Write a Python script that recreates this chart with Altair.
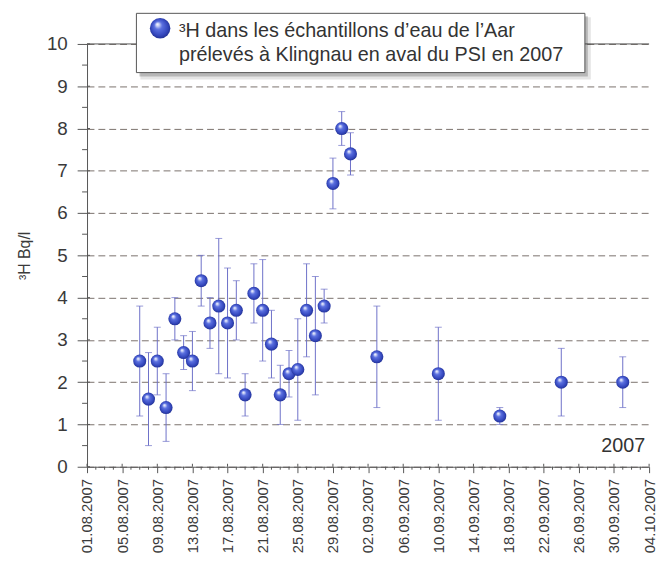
import altair as alt
import pandas as pd

# ---- data ----
dates = ["2007-08-07", "2007-08-08", "2007-08-09", "2007-08-10", "2007-08-11",
         "2007-08-12", "2007-08-13", "2007-08-14", "2007-08-15", "2007-08-16",
         "2007-08-17", "2007-08-18", "2007-08-19", "2007-08-20", "2007-08-21",
         "2007-08-22", "2007-08-23", "2007-08-24", "2007-08-25", "2007-08-26",
         "2007-08-27", "2007-08-28", "2007-08-29", "2007-08-30", "2007-08-31",
         "2007-09-03", "2007-09-10", "2007-09-17", "2007-09-24", "2007-10-01"]
values = [2.5, 1.6, 2.5, 1.4, 3.5, 2.7, 2.5, 4.4, 3.4, 3.8,
          3.4, 3.7, 1.7, 4.1, 3.7, 2.9, 1.7, 2.2, 2.3, 3.7,
          3.1, 3.8, 6.7, 8.0, 7.4, 2.6, 2.2, 1.2, 2.0, 2.0]
err_low = [1.2, 0.5, 1.7, 0.6, 3.0, 2.3, 1.8, 3.8, 2.8, 2.2,
           2.1, 3.0, 1.2, 3.4, 2.5, 2.1, 1.0, 1.65, 1.1, 2.6,
           1.7, 3.4, 6.1, 7.6, 6.9, 1.4, 1.1, 1.0, 1.2, 1.4]
err_high = [3.8, 2.7, 3.3, 2.2, 4.0, 3.1, 3.2, 5.0, 4.0, 5.4,
            4.7, 4.4, 2.2, 4.8, 4.9, 3.7, 2.4, 2.75, 3.5, 4.8,
            4.5, 4.2, 7.3, 8.4, 7.9, 3.8, 3.3, 1.4, 2.8, 2.6]

x_tick_dates = ["2007-08-01", "2007-08-05", "2007-08-09", "2007-08-13", "2007-08-17",
                "2007-08-21", "2007-08-25", "2007-08-29", "2007-09-02", "2007-09-06",
                "2007-09-10", "2007-09-14", "2007-09-18", "2007-09-22", "2007-09-26",
                "2007-09-30", "2007-10-04"]
y_ticks = [0, 1, 2, 3, 4, 5, 6, 7, 8, 9, 10]
y_minor = [0.5, 1.5, 2.5, 3.5, 4.5, 5.5, 6.5, 7.5, 8.5, 9.5]
x_minor = [d.strftime("%Y-%m-%d") for d in pd.date_range("2007-08-01", "2007-10-04")
           if d.strftime("%Y-%m-%d") not in x_tick_dates]

legend_lines = ["³H dans les échantillons d’eau de l’Aar",
                "prélevés à Klingnau en aval du PSI en 2007"]
y_title = "³H Bq/l"
year_label = "2007"

W, H = 569, 428
FONT = "Liberation Sans"
AXIS_COL = "#555555"
ERR_COL = "#6d70c8"

df = pd.DataFrame({"date": dates, "value": values, "lo": err_low, "hi": err_high})
df_xt = pd.DataFrame({"date": x_tick_dates})
df_xm = pd.DataFrame({"date": x_minor})
df_yt = pd.DataFrame({"v": y_ticks})
df_ym = pd.DataFrame({"v": y_minor})
one = pd.DataFrame({"k": [0]})

def dt(s):
    y, m, d = (int(p) for p in s.split("-"))
    return alt.DateTime(year=y, month=m, date=d, utc=True)

xscale = alt.Scale(type="utc", domain=[dt("2007-08-01"), dt("2007-10-04")])
yscale = alt.Scale(domain=[0, 10], nice=False)

sphere = alt.RadialGradient(
    gradient="radial", x1=0.36, y1=0.3, r1=0.0, x2=0.5, y2=0.5, r2=0.55,
    stops=[alt.GradientStop(offset=0.0, color="#ffffff"),
           alt.GradientStop(offset=0.14, color="#c9d1f6"),
           alt.GradientStop(offset=0.35, color="#5b70e0"),
           alt.GradientStop(offset=0.75, color="#3447bd"),
           alt.GradientStop(offset=1.0, color="#1e2c88")])

x_axis = alt.Axis(values=[dt(s) for s in x_tick_dates],
                  labelExpr="utcFormat(datum.value, '%d.%m.%Y')",
                  labelAngle=270, labelFontSize=15, labelColor="#3a3a3a", labelFont=FONT,
                  labelPadding=6, tickSize=6, tickColor=AXIS_COL, domainColor=AXIS_COL,
                  grid=False, title=None, labelOverlap=False, labelBound=False,
                  labelFlush=False, labelSeparation=0)
y_axis = alt.Axis(values=y_ticks, labelFontSize=19, labelColor="#3a3a3a", labelFont=FONT,
                  labelPadding=10, tickSize=10, tickColor=AXIS_COL, domainColor=AXIS_COL,
                  grid=True, gridDash=[7, 4], gridColor="#7a716c", gridWidth=1,
                  title=y_title, titleFont=FONT, titleFontSize=16, titleFontWeight="normal",
                  titleColor="#3a3a3a", titleX=-63, titleY=214, titleAlign="center",
                  titleBaseline="middle", titleAngle=270, labelFlush=False)

# error bars
err = alt.Chart(df).mark_rule(color=ERR_COL, strokeWidth=1).encode(
    x=alt.X("date:T", scale=xscale, axis=x_axis),
    y=alt.Y("lo:Q", scale=yscale, axis=y_axis),
    y2="hi:Q")
cap_lo = alt.Chart(df).mark_tick(color=ERR_COL, orient="horizontal", size=7, thickness=1).encode(
    x=alt.X("date:T", scale=xscale, axis=x_axis), y=alt.Y("lo:Q", scale=yscale, axis=y_axis))
cap_hi = alt.Chart(df).mark_tick(color=ERR_COL, orient="horizontal", size=7, thickness=1).encode(
    x=alt.X("date:T", scale=xscale, axis=x_axis), y=alt.Y("hi:Q", scale=yscale, axis=y_axis))

points = alt.Chart(df).mark_circle(size=175, color=sphere, opacity=1).encode(
    x=alt.X("date:T", scale=xscale, axis=x_axis), y=alt.Y("value:Q", scale=yscale, axis=y_axis))

# top border
top = alt.Chart(one).mark_rule(color=AXIS_COL, strokeWidth=1).encode(
    y=alt.datum(10, scale=yscale, axis=y_axis))

# minor / inward ticks
xmin = alt.Chart(df_xm).mark_rule(color=AXIS_COL).encode(
    x=alt.X("date:T", scale=xscale, axis=x_axis), y=alt.value(H), y2=alt.value(H + 3))
xin = alt.Chart(df_xt).mark_rule(color=AXIS_COL).encode(
    x=alt.X("date:T", scale=xscale, axis=x_axis), y=alt.value(H - 3), y2=alt.value(H))
ymin = alt.Chart(df_ym).mark_rule(color=AXIS_COL).encode(
    y=alt.Y("v:Q", scale=yscale, axis=y_axis), x=alt.value(-5), x2=alt.value(0))
yin = alt.Chart(df_yt).mark_rule(color=AXIS_COL).encode(
    y=alt.Y("v:Q", scale=yscale, axis=y_axis), x=alt.value(0), x2=alt.value(3))

# legend box (annotation)
bx1, bx2, by1, by2 = 50, 504, -31, 29
shadow2 = alt.Chart(one).mark_rect(color="#000000", opacity=0.10).encode(
    x=alt.value(bx1 + 4), x2=alt.value(bx2 + 6), y=alt.value(by1 + 4), y2=alt.value(by2 + 7))
shadow1 = alt.Chart(one).mark_rect(color="#000000", opacity=0.20).encode(
    x=alt.value(bx1 + 3), x2=alt.value(bx2 + 3), y=alt.value(by1 + 3), y2=alt.value(by2 + 4))
box = alt.Chart(one).mark_rect(fill="#ffffff", stroke="#555555", strokeWidth=1).encode(
    x=alt.value(bx1), x2=alt.value(bx2), y=alt.value(by1), y2=alt.value(by2))
leg_sym = alt.Chart(one).mark_circle(size=430, color=sphere, opacity=1).encode(
    x=alt.value(74), y=alt.value(-16))
leg_t1 = alt.Chart(one).mark_text(align="left", baseline="alphabetic", font=FONT,
                                  fontSize=20, color="#333333").encode(
    x=alt.value(93), y=alt.value(-7), text=alt.value(legend_lines[0]))
leg_t2 = alt.Chart(one).mark_text(align="left", baseline="alphabetic", font=FONT,
                                  fontSize=20, color="#333333").encode(
    x=alt.value(93), y=alt.value(17), text=alt.value(legend_lines[1]))
year = alt.Chart(one).mark_text(align="right", baseline="middle", font=FONT,
                                fontSize=20, color="#333333").encode(
    x=alt.value(565), y=alt.value(407), text=alt.value(year_label))

chart = alt.layer(
    err, top, xmin, xin, ymin, yin, cap_lo, cap_hi, points,
    shadow2, shadow1, box, leg_sym, leg_t1, leg_t2, year
).properties(
    width=W, height=H,
    autosize=alt.AutoSizeParams(type="none"),
    padding={"left": 80, "top": 33, "right": 8, "bottom": 90},
    background="#ffffff"
).configure_view(stroke=None).configure_axisX(labelOverlap=False, labelSeparation=0)

chart.save("out.html", embed_options={"renderer": "svg", "actions": False})
